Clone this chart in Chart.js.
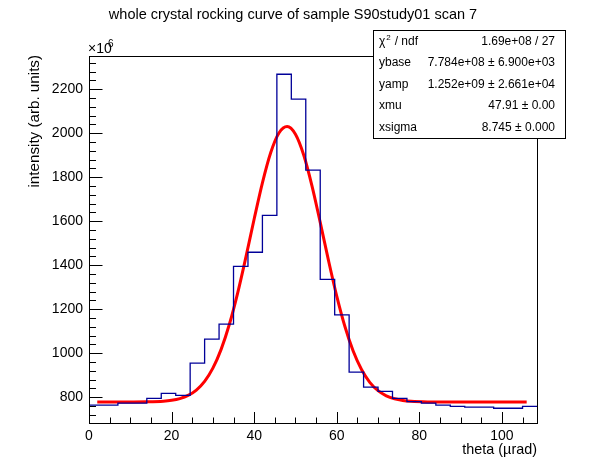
<!DOCTYPE html>
<html>
<head>
<meta charset="utf-8">
<script src="https://cdn.jsdelivr.net/npm/chart.js@4.4.1/dist/chart.umd.min.js"></script>
<style>
html,body{margin:0;padding:0;background:#fff;}
#c{display:block;}
</style>
</head>
<body>
<canvas id="c" width="596" height="472"></canvas>
<script>
// ---- data (intensity in units of 1e6) ----
const binWidth = 3.5;
const binLow = 0;
const histValues = [764, 764, 773, 773, 795, 818, 809, 955, 1064, 1132,
  1395, 1459, 1627, 2268, 2155, 1832, 1336, 1174, 914, 846,
  827, 795, 780, 773, 764, 759, 755, 755, 750, 750, 759];
const fitX = [2, 6, 10, 14, 18, 20, 22, 24, 26, 28, 30, 32, 34, 36, 38, 40, 42, 44, 46, 48,
  50, 52, 54, 56, 58, 60, 62, 64, 66, 68, 70, 72, 74, 76, 78, 82, 86, 90, 98, 106];
const fitY = [778.4, 778.4, 778.5, 779.1, 782.0, 786.1, 793.9, 808.2, 832.7, 872.2, 932.2, 1017.7, 1131.7, 1273.6, 1437.2, 1610.0, 1774.7, 1911.3, 2000.9, 2030.3,
  1995.1, 1900.7, 1760.8, 1594.6, 1421.9, 1259.9, 1120.3, 1008.8, 925.8, 867.8, 829.9, 806.6, 793.0, 785.6, 781.8, 779.0, 778.5, 778.4, 778.4, 778.4];
const xTicks = [0, 20, 40, 60, 80, 100];
const yTicks = [800, 1000, 1200, 1400, 1600, 1800, 2000, 2200];
const xRange = [0, 108.5];
const yRange = [683, 2351];
const titleText = "whole crystal rocking curve of sample S90study01 scan 7";
const xTitle = "theta (\u00b5rad)";
const yTitle = "intensity (arb. units)";
const statsLabels = ["ndf", "ybase", "yamp", "xmu", "xsigma"];
const statsValues = ["1.69e+08 / 27", "7.784e+08 \u00b1 6.900e+03", "1.252e+09 \u00b1 2.661e+04", "47.91 \u00b1 0.00", "8.745 \u00b1 0.000"];

// build histogram step points from bin edges
const histPts = histValues.map((v, i) => ({x: binLow + i * binWidth, y: v}));
histPts.push({x: binLow + histValues.length * binWidth, y: histValues[histValues.length - 1]});
const fitPts = fitX.map((x, i) => ({x: x, y: fitY[i]}));

const FONT = "'Liberation Sans', Arial, Helvetica, sans-serif";

const rootAxes = {
  id: 'rootAxes',
  afterDatasetsDraw(chart) {
    const ctx = chart.ctx;
    const a = chart.chartArea;
    const xs = chart.scales.x, ys = chart.scales.y;
    ctx.save();
    ctx.strokeStyle = '#000';
    ctx.lineWidth = 1;
    // frame
    ctx.strokeRect(Math.round(a.left) + 0.5, Math.round(a.top) + 0.5, Math.round(a.right - a.left), Math.round(a.bottom - a.top));
    // x ticks (inward)
    ctx.beginPath();
    for (let v = 0; v <= xRange[1]; v += 5) {
      const px = Math.round(xs.getPixelForValue(v)) + 0.5;
      const len = (v % 20 === 0) ? 11 : 5.5;
      ctx.moveTo(px, a.bottom);
      ctx.lineTo(px, a.bottom - len);
    }
    // y ticks
    for (let v = 720; v <= yRange[1]; v += 40) {
      if (v < yRange[0]) continue;
      const py = Math.round(ys.getPixelForValue(v)) + 0.5;
      const len = (v % 200 === 0) ? 13.5 : 7;
      ctx.moveTo(a.left, py);
      ctx.lineTo(a.left + len, py);
    }
    ctx.stroke();
    // tick labels
    ctx.fillStyle = '#000';
    ctx.font = '14px ' + FONT;
    ctx.textAlign = 'center';
    ctx.textBaseline = 'middle';
    xTicks.forEach(v => ctx.fillText(String(v), xs.getPixelForValue(v), 436));
    ctx.textAlign = 'right';
    yTicks.forEach(v => ctx.fillText(String(v), a.left - 6, ys.getPixelForValue(v)));
    // exponent
    ctx.textAlign = 'left';
    ctx.textBaseline = 'alphabetic';
    ctx.font = '14px ' + FONT;
    ctx.fillText('\u00d710', 88, 53);
    ctx.font = '10px ' + FONT;
    ctx.fillText('6', 108, 47);
    // title
    ctx.font = '14.5px ' + FONT;
    ctx.textAlign = 'center';
    ctx.textBaseline = 'middle';
    ctx.fillText(titleText, 293, 15);
    // x title
    ctx.font = '14.4px ' + FONT;
    ctx.textAlign = 'right';
    ctx.fillText(xTitle, a.right, 450);
    // y title
    ctx.save();
    ctx.font = '15.2px ' + FONT;
    ctx.translate(35, a.top - 1);
    ctx.rotate(-Math.PI / 2);
    ctx.textAlign = 'right';
    ctx.fillText(yTitle, 0, 0);
    ctx.restore();
    // stats box
    const bx = 373.5, by = 30.5, bw = 192, bh = 108;
    ctx.fillStyle = '#fff';
    ctx.fillRect(bx, by, bw, bh);
    ctx.strokeRect(bx, by, bw, bh);
    ctx.fillStyle = '#000';
    ctx.font = '12px ' + FONT;
    ctx.textBaseline = 'middle';
    const rowH = bh / 5;
    for (let i = 0; i < 5; i++) {
      const cy = by + rowH * (i + 0.5);
      ctx.textAlign = 'left';
      if (i === 0) {
        ctx.fillText('\u03c7', 379, cy);
        const w = ctx.measureText('\u03c7').width;
        ctx.font = '8px ' + FONT;
        ctx.fillText('2', 379 + w + 1, cy - 4);
        ctx.font = '12px ' + FONT;
        ctx.fillText(' / ' + statsLabels[0], 379 + w + 6, cy);
      } else {
        ctx.fillText(statsLabels[i], 379, cy);
      }
      ctx.textAlign = 'right';
      ctx.fillText(statsValues[i], 555, cy);
    }
    ctx.restore();
  }
};

new Chart(document.getElementById('c'), {
  type: 'scatter',
  data: {
    datasets: [
      {
        label: 'hist',
        data: histPts,
        showLine: true,
        stepped: 'before',
        borderColor: '#000099',
        borderWidth: 1.3,
        pointRadius: 0,
        fill: false
      },
      {
        label: 'fit',
        data: fitPts,
        showLine: true,
        cubicInterpolationMode: 'monotone',
        borderColor: '#ff0000',
        borderWidth: 3,
        pointRadius: 0,
        fill: false
      }
    ]
  },
  options: {
    responsive: false,
    animation: false,
    devicePixelRatio: 1,
    layout: {padding: {left: 89, top: 56, right: 59, bottom: 49}},
    plugins: {legend: {display: false}, tooltip: {enabled: false}, title: {display: false}},
    scales: {
      x: {type: 'linear', display: false, min: xRange[0], max: xRange[1]},
      y: {type: 'linear', display: false, min: yRange[0], max: yRange[1]}
    }
  },
  plugins: [rootAxes]
});
</script>
</body>
</html>
